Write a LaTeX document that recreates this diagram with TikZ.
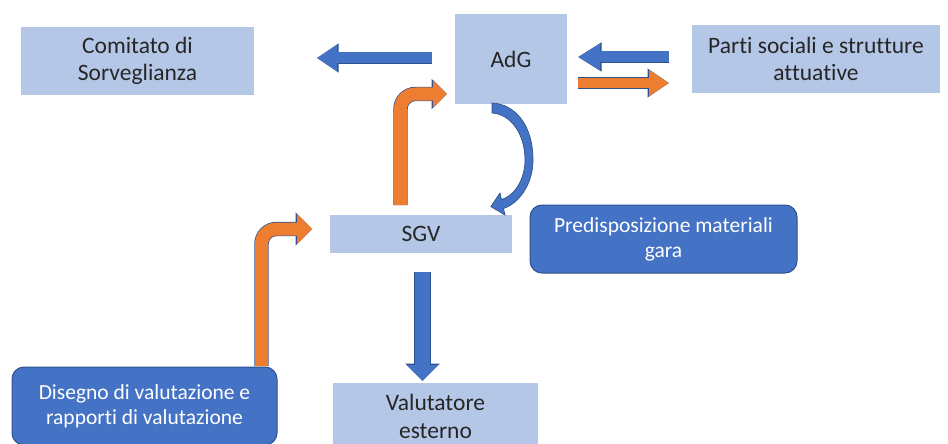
\documentclass[tikz,border=0pt]{standalone}
\usepackage{fontspec}
\setmainfont{Carlito}[Ligatures={NoCommon}]
\usetikzlibrary{arrows.meta}
\definecolor{boxfill}{HTML}{B4C7E7}
\definecolor{ablue}{HTML}{4472C4}
\definecolor{bedge}{HTML}{2F528F}
\definecolor{aorange}{HTML}{ED7D31}
\definecolor{oedge}{HTML}{AE5A21}
\definecolor{txt}{HTML}{262626}
\begin{document}
\begin{tikzpicture}[x=1pt,y=-1pt,
  lbox/.style={fill=boxfill, draw=none, inner sep=0pt, align=center, text=txt, font=\fontsize{23.5}{27.5}\selectfont},
  dbox/.style={fill=ablue, draw=bedge, line width=1pt, rounded corners=12pt, inner sep=0pt, align=center, text=white, font=\fontsize{21.5}{25}\selectfont},
  bluearrow/.style={draw=ablue, line width=#1},
  orangearrow/.style={draw=aorange, line width=#1},
  blueedge/.style={draw=bedge, line width=#1},
  orangeedge/.style={draw=oedge, line width=#1}
]
\useasboundingbox (0,0) rectangle (948,444);
\clip (0,0) rectangle (948,444);

% boxes
\node[lbox, minimum width=233pt, minimum height=68pt] (com) at (137.5,61) {Comitato di\\Sorveglianza};
\node[lbox, minimum width=112pt, minimum height=90pt] (adg) at (511,59) {AdG};
\node[lbox, minimum width=248pt, minimum height=68pt] (parti) at (816,59) {Parti sociali e strutture\\attuative};
\node[lbox, minimum width=182pt, minimum height=38pt] (sgv) at (421,234) {SGV};
\node[lbox, minimum width=205pt, minimum height=67pt] (val) at (435.5,416.5) {Valutatore\\esterno};
\node[dbox, minimum width=265pt, minimum height=78pt] (dis) at (144.5,406) {Disegno di valutazione e\\rapporti di valutazione};
\node[dbox, minimum width=267pt, minimum height=68pt] (pred) at (663.5,239) {Predisposizione materiali\\gara};

% arrow end points
\coordinate (a1s) at (432,58);   \coordinate (a1e) at (317,58);
\coordinate (a2s) at (669,57);   \coordinate (a2e) at (578,57);
\coordinate (a3s) at (578,83);   \coordinate (a3e) at (669,83);
\coordinate (b1s) at (400.5,205); \coordinate (b1c) at (400.5,94); \coordinate (b1e) at (447,94);
\coordinate (b2s) at (261.5,366); \coordinate (b2c) at (261.5,229); \coordinate (b2e) at (312,229);
\coordinate (c1s) at (422.5,272); \coordinate (c1e) at (422.5,381);

% AdG -> Comitato
\draw[blueedge=12.4pt, -{Triangle[length=21.5pt,width=27.5pt]}] (a1s) -- (a1e);
\draw[bluearrow=11pt, -{Triangle[length=20pt,width=25pt]}] (a1s) -- (a1e);
% Parti -> AdG
\draw[blueedge=12.4pt, -{Triangle[length=23.5pt,width=27.5pt]}] (a2s) -- (a2e);
\draw[bluearrow=11pt, -{Triangle[length=22pt,width=25pt]}] (a2s) -- (a2e);
% AdG -> Parti
\draw[blueedge=11.4pt, -{Triangle[length=21.5pt,width=27.5pt]}] (a3s) -- (a3e);
\draw[orangearrow=10pt, -{Triangle[length=20pt,width=25pt]}] (a3s) -- (a3e);
% SGV -> AdG (bent)
\draw[blueedge=14.4pt, rounded corners=15pt, -{Triangle[length=15.5pt,width=29.5pt]}] (b1s) -- (b1c) -- (b1e);
\draw[orangearrow=13pt, rounded corners=15pt, -{Triangle[length=14pt,width=27pt]}] (b1s) -- (b1c) -- (b1e);
% Disegno -> SGV (bent)
\draw[blueedge=14.4pt, rounded corners=15pt, -{Triangle[length=16.5pt,width=32.5pt]}] (b2s) -- (b2c) -- (b2e);
\draw[orangearrow=13pt, rounded corners=15pt, -{Triangle[length=15pt,width=30pt]}] (b2s) -- (b2c) -- (b2e);
% SGV -> Valutatore
\draw[blueedge=16.4pt, -{Triangle[length=17.5pt,width=33.5pt]}] (c1s) -- (c1e);
\draw[bluearrow=15pt, -{Triangle[length=16pt,width=31pt]}] (c1s) -- (c1e);

% curved arrow AdG -> SGV
\fill[ablue, draw=bedge, line width=0.7pt, line join=miter]
  (492,103) .. controls (515,104) and (533,125) .. (533,160)
  .. controls (533,185) and (518,204) .. (503.5,208.4)
  -- (505,215) -- (490.9,206.6) -- (500,193) -- (501.5,199.6)
  .. controls (514,196) and (525,180) .. (525,160)
  .. controls (525,133) and (510,114) .. (492,113) -- cycle;
\end{tikzpicture}
\end{document}
